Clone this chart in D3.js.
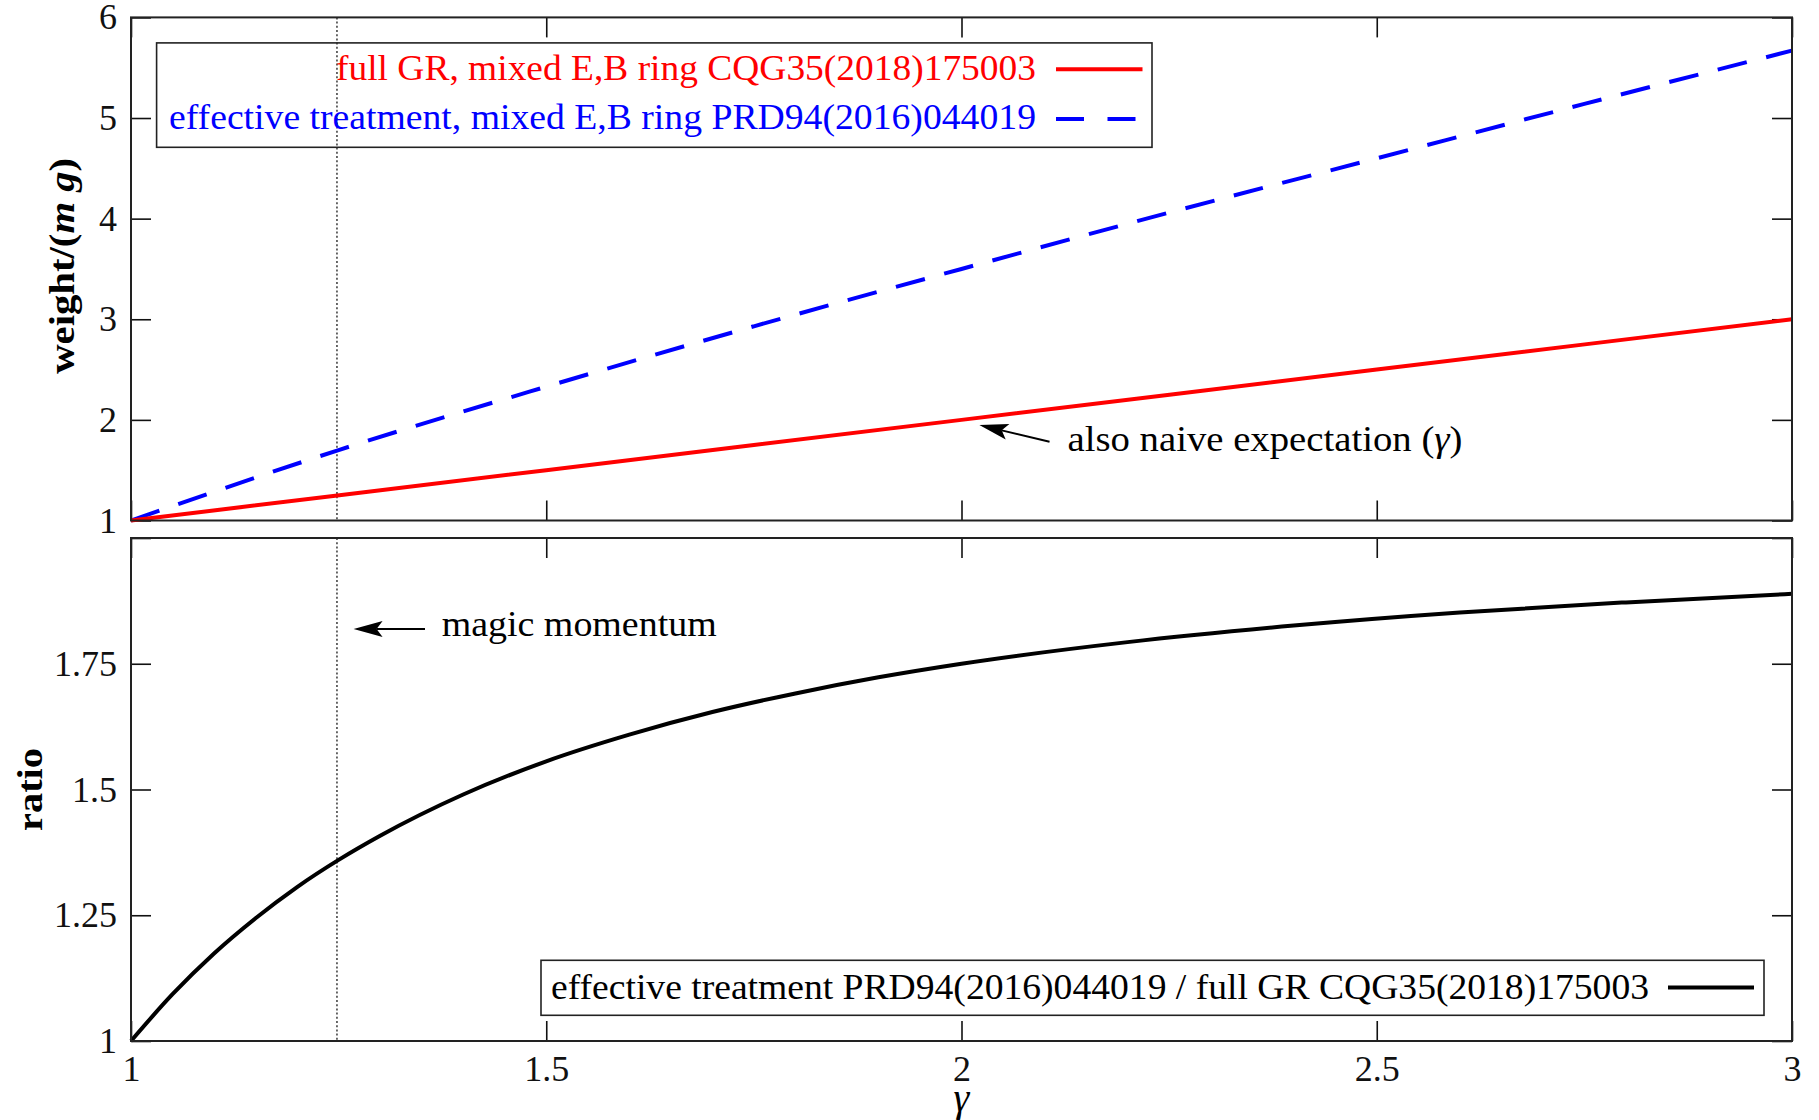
<!DOCTYPE html>
<html>
<head>
<meta charset="utf-8">
<script src="https://cdn.jsdelivr.net/npm/d3@7"></script>
<style>
  body { margin: 0; background: #fff; }
  svg { display: block; font-family: "Liberation Serif", serif; }
</style>
</head>
<body>
<div id="chart"></div>
<script>
// values
const redGamma = [1, 1.5, 2, 2.5, 3];
const redWeight = [1, 1.5, 2, 2.5, 3];

const blueGamma = [1, 1.25, 1.5, 1.75, 2, 2.25, 2.5, 2.75, 3];
const blueWeight = [1.00, 1.70, 2.33, 2.93, 3.50, 4.06, 4.60, 5.14, 5.67];

const ratioGamma = [1, 1.05, 1.1, 1.15, 1.2, 1.25, 1.3, 1.4, 1.5, 1.6, 1.7, 1.8, 1.9, 2.0, 2.2, 2.4, 2.6, 2.8, 3.0];
const ratioValue = [1.00, 1.093, 1.174, 1.244, 1.306, 1.36, 1.408, 1.49, 1.556, 1.609, 1.654, 1.691, 1.723, 1.75, 1.793, 1.826, 1.852, 1.872, 1.889];

const magicGamma = 1.248;

const xTicks = [1, 1.5, 2, 2.5, 3];
const weightTicks = [1, 2, 3, 4, 5, 6];
const ratioTicks = [1, 1.25, 1.5, 1.75, 2];

const legendTop = [
    "full GR, mixed E,B ring CQG35(2018)175003",
    "effective treatment, mixed E,B ring PRD94(2016)044019"
];
const legendBottom = "effective treatment PRD94(2016)044019 / full GR CQG35(2018)175003";

const width = 1819, height = 1120, fontSize = 36;

const svg = d3.select("#chart").append("svg")
    .attr("width", width)
    .attr("height", height)
    .style("font-size", fontSize + "px");

const x = d3.scaleLinear().domain([1, 3]).range([131, 1792]);
const yTop = d3.scaleLinear().domain([1, 6]).range([520.5, 17.4]);
const yBot = d3.scaleLinear().domain([1, 2]).range([1041, 538]);

function frame(y, yTickVals, labelX) {
    const g = svg.append("g");
    const y0 = y.range()[0], y1 = y.range()[1];
    g.append("g").attr("transform", `translate(0,${y0})`)
        .call(d3.axisBottom(x).tickValues(xTicks).tickSize(-20).tickPadding(14)
            .tickFormat(labelX ? d3.format("") : ""));
    g.append("g").attr("transform", `translate(0,${y1})`)
        .call(d3.axisTop(x).tickValues(xTicks).tickSize(-20).tickFormat(""));
    g.append("g").attr("transform", `translate(${x(1)},0)`)
        .call(d3.axisLeft(y).tickValues(yTickVals).tickSize(-20).tickPadding(14)
            .tickFormat(d => d === 2 && y === yBot ? "" : d3.format("")(d)));
    g.append("g").attr("transform", `translate(${x(3)},0)`)
        .call(d3.axisRight(y).tickValues(yTickVals).tickSize(-20).tickFormat(""));
    g.selectAll(".domain").remove();
    g.selectAll("g").attr("font-size", null).attr("font-family", null);
    g.selectAll(".tick line").attr("stroke", "#111").attr("stroke-width", 1.6);
    g.selectAll(".tick text").attr("fill", "#111");
    // dotted magic momentum line
    g.append("line")
        .attr("x1", x(magicGamma)).attr("x2", x(magicGamma))
        .attr("y1", y1).attr("y2", y0)
        .attr("stroke", "#444").attr("stroke-width", 1.6)
        .attr("stroke-dasharray", "2,2.2");
    return g;
}

const gTop = frame(yTop, weightTicks, false);
const gBot = frame(yBot, ratioTicks, true);

// curves
const lineTop = d3.line().x(d => x(d[0])).y(d => yTop(d[1])).curve(d3.curveMonotoneX);
const lineBot = d3.line().x(d => x(d[0])).y(d => yBot(d[1])).curve(d3.curveMonotoneX);

gTop.append("path")
    .datum(blueGamma.map((g, i) => [g, blueWeight[i]]))
    .attr("d", lineTop)
    .attr("fill", "none").attr("stroke", "#0000ff").attr("stroke-width", 4)
    .attr("stroke-dasharray", "30,20");
gTop.append("path")
    .datum(redGamma.map((g, i) => [g, redWeight[i]]))
    .attr("d", lineTop)
    .attr("fill", "none").attr("stroke", "#ff0000").attr("stroke-width", 4);
gBot.append("path")
    .datum(ratioGamma.map((g, i) => [g, ratioValue[i]]))
    .attr("d", lineBot)
    .attr("fill", "none").attr("stroke", "#000").attr("stroke-width", 4);

// borders
[yTop, yBot].forEach(y => {
    svg.append("rect")
        .attr("x", x(1)).attr("y", y.range()[1])
        .attr("width", x(3) - x(1)).attr("height", y.range()[0] - y.range()[1])
        .attr("fill", "none").attr("stroke", "#222").attr("stroke-width", 2);
});

// top legend
svg.append("rect")
    .attr("x", 156.6).attr("y", 42.9).attr("width", 995.4).attr("height", 104.4)
    .attr("fill", "none").attr("stroke", "#222").attr("stroke-width", 1.6);
svg.append("text")
    .attr("x", 1036).attr("y", 80).attr("text-anchor", "end")
    .attr("fill", "#ff0000")
    .attr("textLength", 700).attr("lengthAdjust", "spacingAndGlyphs")
    .text(legendTop[0]);
svg.append("line")
    .attr("x1", 1056).attr("x2", 1142.5).attr("y1", 69.3).attr("y2", 69.3)
    .attr("stroke", "#ff0000").attr("stroke-width", 4);
svg.append("text")
    .attr("x", 1036).attr("y", 129).attr("text-anchor", "end")
    .attr("fill", "#0000ff")
    .attr("textLength", 867).attr("lengthAdjust", "spacingAndGlyphs")
    .text(legendTop[1]);
svg.append("line")
    .attr("x1", 1056).attr("x2", 1142.5).attr("y1", 119).attr("y2", 119)
    .attr("stroke", "#0000ff").attr("stroke-width", 4)
    .attr("stroke-dasharray", "28,23.5");

// bottom legend
svg.append("rect")
    .attr("x", 541).attr("y", 960.3).attr("width", 1223).attr("height", 55)
    .attr("fill", "#fff").attr("stroke", "#222").attr("stroke-width", 1.6);
svg.append("text")
    .attr("x", 1649).attr("y", 999).attr("text-anchor", "end")
    .attr("fill", "#000")
    .attr("textLength", 1098).attr("lengthAdjust", "spacingAndGlyphs")
    .text(legendBottom);
svg.append("line")
    .attr("x1", 1668).attr("x2", 1754).attr("y1", 987.5).attr("y2", 987.5)
    .attr("stroke", "#000").attr("stroke-width", 4);

// arrows
function arrow(x1, y1, x2, y2) {
    const ang = Math.atan2(y2 - y1, x2 - x1);
    const L = 29, W = 8, N = 23;
    const c = Math.cos(ang), s = Math.sin(ang);
    const pt = (a, b) => [x2 - a * c + b * s, y2 - a * s - b * c];
    svg.append("line")
        .attr("x1", x1).attr("y1", y1).attr("x2", pt(N, 0)[0]).attr("y2", pt(N, 0)[1])
        .attr("stroke", "#000").attr("stroke-width", 2);
    svg.append("path")
        .attr("d", d3.line()([[x2, y2], pt(L, W), pt(N, 0), pt(L, -W)]) + "Z")
        .attr("fill", "#000");
}
arrow(x(2.106), yTop(1.782), x(2.0215), yTop(1.949));
arrow(x(1.354), yBot(1.819), x(1.268), yBot(1.819));

// annotations
const naive = svg.append("text")
    .attr("x", 1067.5).attr("y", 451)
    .attr("textLength", 395).attr("lengthAdjust", "spacingAndGlyphs");
naive.append("tspan").text("also naive expectation (");
naive.append("tspan").attr("font-style", "italic").text("γ");
naive.append("tspan").text(")");

svg.append("text")
    .attr("x", 441.7).attr("y", 636)
    .attr("textLength", 275).attr("lengthAdjust", "spacingAndGlyphs")
    .text("magic momentum");

// axis labels
const yl = svg.append("text")
    .attr("transform", "translate(74,265.8) rotate(-90)")
    .attr("text-anchor", "middle")
    .attr("font-weight", "bold")
    .attr("textLength", 216).attr("lengthAdjust", "spacingAndGlyphs");
yl.append("tspan").text("weight/(");
yl.append("tspan").attr("font-style", "italic").text("m g");
yl.append("tspan").text(")");

svg.append("text")
    .attr("transform", "translate(41.5,789.5) rotate(-90)")
    .attr("text-anchor", "middle")
    .attr("font-weight", "bold")
    .attr("textLength", 83).attr("lengthAdjust", "spacingAndGlyphs")
    .text("ratio");

svg.append("text")
    .attr("x", x(2)).attr("y", 1111)
    .attr("text-anchor", "middle")
    .attr("font-style", "italic")
    .style("font-size", "40px")
    .text("γ");
</script>
</body>
</html>
